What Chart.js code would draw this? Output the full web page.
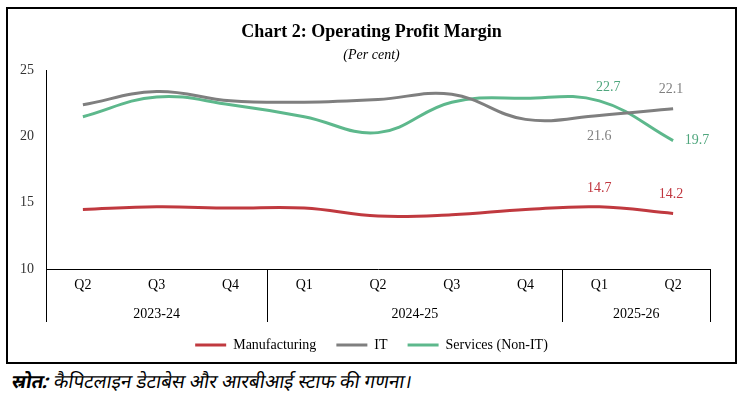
<!DOCTYPE html>
<html>
<head>
<meta charset="utf-8">
<script src="https://cdn.jsdelivr.net/npm/chart.js@4.4.1/dist/chart.umd.min.js"></script>
<style>
  body { margin: 0; background: #fff; }
  #box { position: absolute; left: 6px; top: 7px; width: 727px; height: 353px; border: 2px solid #000; }
  #source { position: absolute; left: 10px; top: 368px; font-family: "Noto Sans", "DejaVu Sans", sans-serif; font-style: italic; font-size: 19px; color: #000; transform: skewX(-10deg); transform-origin: left bottom; }
</style>
</head>
<body>
<div id="box"><canvas id="grafico" width="727" height="353"></canvas></div>
<div id="source"><b>स्रोत:</b> कैपिटलाइन डेटाबेस और आरबीआई स्टाफ की गणना।</div>
<script>
// DADOS
const quarters = ["Q2", "Q3", "Q4", "Q1", "Q2", "Q3", "Q4", "Q1", "Q2"];
const years = ["2023-24", "2024-25", "2025-26"];
const yearSpans = [3, 4, 2];

const manufacturing = [14.5, 14.7, 14.6, 14.6, 14.0, 14.1, 14.5, 14.7, 14.2];
const it = [22.4, 23.4, 22.7, 22.6, 22.8, 23.2, 21.3, 21.6, 22.1];
const services = [21.5, 23.0, 22.4, 21.5, 20.3, 22.6, 22.9, 22.7, 19.7];

const labelled = [7, 8];

const serif = "'Liberation Serif', 'Times New Roman', serif";

// separadores e anos do eixo x
const groupPlugin = {
  id: "groups",
  afterDraw(chart) {
    const x = chart.scales.x;
    const ctx = chart.ctx;
    ctx.save();
    ctx.strokeStyle = "#000";
    ctx.lineWidth = 1;
    let start = 0;
    const edges = [0];
    yearSpans.forEach(n => { start += n; edges.push(start); });
    edges.forEach(i => {
      const px = Math.round(x.getPixelForValue(i - 0.5)) + 0.5;
      ctx.beginPath();
      ctx.moveTo(px, x.top);
      ctx.lineTo(px, x.top + 53);
      ctx.stroke();
    });
    ctx.fillStyle = "#000";
    ctx.font = "14px " + serif;
    ctx.textAlign = "center";
    ctx.textBaseline = "middle";
    years.forEach((y, k) => {
      const a = x.getPixelForValue(edges[k] - 0.5);
      const b = x.getPixelForValue(edges[k + 1] - 0.5);
      ctx.fillText(y, (a + b) / 2, x.top + 45);
    });
    ctx.restore();
  }
};

// rótulos dos pontos
const offsets = [
  [[0, -18], [-2, -19]],
  [[0, 21], [-2, -19]],
  [[9, -14], [24, 0]]
];

const labelPlugin = {
  id: "pointLabels",
  afterDatasetsDraw(chart) {
    const ctx = chart.ctx;
    ctx.save();
    ctx.font = "14px " + serif;
    ctx.textAlign = "center";
    ctx.textBaseline = "middle";
    chart.data.datasets.forEach((ds, d) => {
      const meta = chart.getDatasetMeta(d);
      ctx.fillStyle = ds.labelColor;
      labelled.forEach((i, k) => {
        const p = meta.data[i];
        ctx.fillText(ds.data[i].toFixed(1), p.x + offsets[d][k][0], p.y + offsets[d][k][1]);
      });
    });
    ctx.restore();
  }
};

function serie(label, data, color, labelColor) {
  return {
    label,
    data,
    borderColor: color,
    backgroundColor: color,
    labelColor,
    borderWidth: 3,
    pointRadius: 0,
    tension: 0.4,
    fill: false
  };
}

new Chart(document.getElementById("grafico").getContext("2d"), {
  type: "line",
  data: {
    labels: quarters,
    datasets: [
      serie("Manufacturing", manufacturing, "#C0393F", "#C0363F"),
      serie("IT", it, "#7F7F7F", "#808080"),
      serie("Services (Non-IT)", services, "#5DB88C", "#4FA67D")
    ]
  },
  options: {
    responsive: false,
    animation: false,
    layout: { padding: 0 },
    plugins: {
      title: {
        display: true,
        text: "Chart 2: Operating Profit Margin",
        color: "#000",
        font: { family: serif, size: 18, weight: "bold" },
        padding: { top: 13, bottom: 3 }
      },
      subtitle: {
        display: true,
        text: "(Per cent)",
        color: "#000",
        font: { family: serif, size: 14, style: "italic" },
        padding: { bottom: 7 }
      },
      legend: {
        position: "bottom",
        labels: {
          usePointStyle: true,
          pointStyle: "line",
          pointStyleWidth: 31,
          boxHeight: 14,
          padding: 20,
          color: "#000",
          font: { family: serif, size: 14 }
        }
      },
      tooltip: { enabled: false }
    },
    scales: {
      x: {
        offset: true,
        grid: { display: false },
        border: { color: "#000", width: 1 },
        ticks: { color: "#000", padding: 0, font: { family: serif, size: 14 } },
        afterFit(scale) { scale.height = 49; }
      },
      y: {
        min: 10,
        max: 25,
        grid: { display: false },
        border: { color: "#000", width: 1 },
        ticks: { stepSize: 5, color: "#333", padding: 4, font: { family: serif, size: 14 } },
        afterFit(scale) { scale.width = 38; }
      },
      y2: {
        position: "right",
        display: true,
        grid: { display: false },
        border: { display: false },
        ticks: { display: false },
        afterFit(scale) { scale.width = 25; }
      }
    }
  },
  plugins: [groupPlugin, labelPlugin]
});
</script>
</body>
</html>
